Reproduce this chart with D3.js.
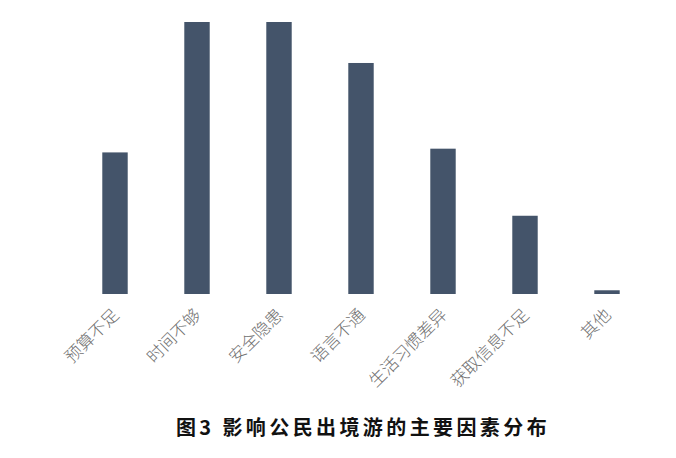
<!DOCTYPE html>
<html><head><meta charset="utf-8">
<script src="https://cdn.jsdelivr.net/npm/d3@7"></script>
<style>html,body{margin:0;padding:0;background:#fff;}svg{display:block;}</style>
</head><body>
<svg id="c" width="676" height="458"></svg>
<script>
const categories = ["预算不足","时间不够","安全隐患","语言不通","生活习惯差异","获取信息不足","其他"];
const values = [38, 73, 73, 62, 39, 21, 1];
const title = "图3 影响公民出境游的主要因素分布";

const svg = d3.select("#c");
const x = d3.scaleBand().domain(categories).range([74, 648]).paddingInner(0.69).paddingOuter(0.345);
const y = d3.scaleLinear().domain([0, 73]).range([294, 22]);

svg.append("g").selectAll("rect").data(values).join("rect")
  .attr("x", (d,i) => x(categories[i]))
  .attr("width", x.bandwidth())
  .attr("y", d => y(d))
  .attr("height", d => y(0) - y(d))
  .attr("fill", "#44546a");

const xAxis = d3.axisBottom(x).tickSize(0).tickPadding(0);
const ax = svg.append("g").attr("transform", "translate(0,294)").call(xAxis);
ax.select(".domain").remove();
ax.selectAll("text")
  .attr("font-family", "'Noto Sans CJK SC', sans-serif")
  .attr("font-weight", 300)
  .attr("font-size", 17)
  .attr("fill", "#707070")
  .attr("text-anchor", "end")
  .attr("dy", null)
  .attr("y", 0)
  .attr("transform", "translate(5,22) rotate(-45)");

svg.append("text")
  .attr("x", 363).attr("y", 435)
  .attr("text-anchor", "middle")
  .attr("font-family", "'Noto Sans CJK SC', sans-serif")
  .attr("font-weight", 700)
  .attr("font-size", 20)
  .attr("letter-spacing", "3.4px")
  .attr("fill", "#111")
  .text(title);
</script>
</body></html>
